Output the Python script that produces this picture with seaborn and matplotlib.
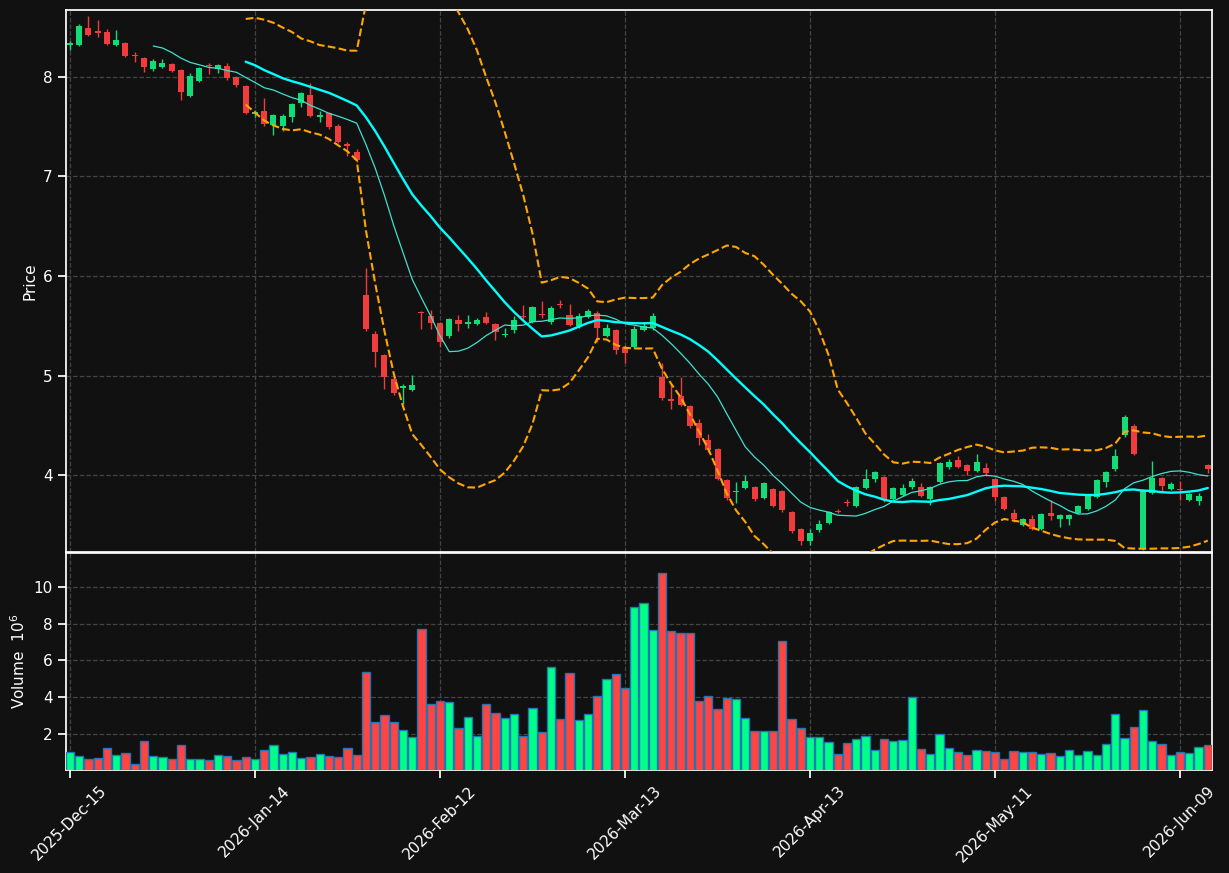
import numpy as np
import pandas as pd
import matplotlib
matplotlib.use('Agg')
import matplotlib.pyplot as plt
import seaborn as sns

# OHLC (price), volume in millions
opens = [8.32, 8.32, 8.49, 8.46, 8.45, 8.32, 8.34, 8.22, 8.19, 8.08,
         8.10, 8.13, 8.07, 7.81, 7.96, 8.12, 8.08, 8.11, 8.00, 7.91,
         7.63, 7.66, 7.52, 7.51, 7.60, 7.74, 7.82, 7.60, 7.64, 7.51,
         7.32, 7.25, 5.81, 5.42, 5.21, 4.97, 4.88, 4.86, 5.64, 5.60,
         5.53, 5.40, 5.56, 5.52, 5.52, 5.59, 5.52, 5.41, 5.46, 5.60,
         5.54, 5.62, 5.54, 5.72, 5.61, 5.50, 5.59, 5.63, 5.40, 5.46,
         5.29, 5.29, 5.46, 5.48, 4.99, 4.76, 4.80, 4.70, 4.52, 4.35,
         4.26, 3.95, 3.83, 3.87, 3.88, 3.77, 3.86, 3.84, 3.63, 3.46,
         3.34, 3.45, 3.52, 3.64, 3.73, 3.69, 3.87, 3.96, 3.98, 3.76,
         3.80, 3.88, 3.88, 3.76, 3.93, 4.08, 4.15, 4.10, 4.04, 4.07,
         3.96, 3.78, 3.62, 3.50, 3.56, 3.46, 3.62, 3.56, 3.56, 3.62,
         3.66, 3.78, 3.93, 4.06, 4.40, 4.49, 3.26, 3.82, 3.97, 3.86,
         3.86, 3.75, 3.74, 4.10]
closes = [8.34, 8.51, 8.42, 8.44, 8.33, 8.37, 8.21, 8.21, 8.10, 8.16,
          8.14, 8.06, 7.85, 8.01, 8.09, 8.11, 8.12, 7.99, 7.92, 7.64,
          7.64, 7.53, 7.62, 7.61, 7.73, 7.84, 7.61, 7.61, 7.50, 7.35,
          7.31, 7.16, 5.47, 5.24, 4.99, 4.83, 4.90, 4.91, 5.63, 5.53,
          5.34, 5.57, 5.52, 5.54, 5.56, 5.53, 5.44, 5.42, 5.56, 5.59,
          5.69, 5.61, 5.68, 5.71, 5.51, 5.60, 5.65, 5.48, 5.48, 5.26,
          5.23, 5.47, 5.50, 5.60, 4.78, 4.75, 4.71, 4.49, 4.37, 4.25,
          3.96, 3.77, 3.84, 3.94, 3.76, 3.92, 3.69, 3.65, 3.44, 3.34,
          3.42, 3.51, 3.63, 3.63, 3.72, 3.88, 3.96, 4.03, 3.75, 3.87,
          3.87, 3.94, 3.79, 3.88, 4.12, 4.13, 4.08, 4.04, 4.13, 4.02,
          3.78, 3.66, 3.56, 3.56, 3.46, 3.61, 3.59, 3.60, 3.60, 3.69,
          3.80, 3.95, 4.03, 4.19, 4.59, 4.21, 3.85, 3.97, 3.89, 3.91,
          3.85, 3.81, 3.79, 4.06]
highs = [8.36, 8.53, 8.61, 8.57, 8.48, 8.47, 8.35, 8.25, 8.20, 8.18,
         8.18, 8.14, 8.08, 8.04, 8.10, 8.14, 8.13, 8.14, 8.01, 7.92,
         7.67, 7.79, 7.63, 7.63, 7.74, 7.85, 7.94, 7.66, 7.65, 7.53,
         7.35, 7.28, 6.08, 5.45, 5.22, 5.00, 4.92, 5.01, 5.65, 5.66,
         5.54, 5.58, 5.61, 5.61, 5.58, 5.64, 5.53, 5.48, 5.60, 5.71,
         5.70, 5.75, 5.70, 5.76, 5.72, 5.63, 5.67, 5.65, 5.52, 5.47,
         5.31, 5.50, 5.54, 5.63, 5.13, 4.93, 4.99, 4.71, 4.56, 4.41,
         4.27, 3.96, 3.93, 4.00, 3.89, 3.93, 3.87, 3.85, 3.64, 3.47,
         3.46, 3.55, 3.64, 3.66, 3.76, 3.89, 4.06, 4.04, 3.99, 3.88,
         3.91, 3.97, 3.92, 3.89, 4.13, 4.16, 4.19, 4.11, 4.21, 4.12,
         3.97, 3.79, 3.66, 3.57, 3.60, 3.62, 3.75, 3.61, 3.61, 3.70,
         3.81, 3.96, 4.04, 4.26, 4.61, 4.51, 3.86, 4.14, 3.98, 3.93,
         3.94, 3.82, 3.82, 4.11]
lows = [8.27, 8.31, 8.41, 8.40, 8.32, 8.31, 8.20, 8.15, 8.05, 8.06,
        8.09, 8.05, 7.77, 7.80, 7.95, 8.03, 8.04, 7.97, 7.90, 7.63,
        7.60, 7.51, 7.42, 7.46, 7.55, 7.70, 7.60, 7.55, 7.48, 7.34,
        7.20, 7.14, 5.45, 5.09, 4.87, 4.81, 4.72, 4.85, 5.47, 5.47,
        5.29, 5.38, 5.45, 5.48, 5.51, 5.52, 5.36, 5.39, 5.43, 5.57,
        5.53, 5.58, 5.52, 5.68, 5.50, 5.48, 5.58, 5.34, 5.39, 5.22,
        5.13, 5.28, 5.45, 5.46, 4.76, 4.67, 4.70, 4.47, 4.30, 4.23,
        3.95, 3.75, 3.72, 3.86, 3.74, 3.76, 3.68, 3.63, 3.42, 3.30,
        3.30, 3.43, 3.51, 3.62, 3.69, 3.68, 3.86, 3.93, 3.73, 3.75,
        3.79, 3.86, 3.78, 3.70, 3.92, 4.06, 4.07, 4.00, 4.03, 3.99,
        3.74, 3.65, 3.53, 3.49, 3.45, 3.45, 3.55, 3.48, 3.50, 3.61,
        3.65, 3.77, 3.88, 4.04, 4.38, 4.20, 3.25, 3.81, 3.84, 3.85,
        3.75, 3.74, 3.70, 4.02]
volumes = [1.03, 0.81, 0.65, 0.70, 1.24, 0.86, 0.97, 0.38, 1.62, 0.81,
           0.76, 0.65, 1.41, 0.65, 0.65, 0.59, 0.86, 0.81, 0.59, 0.76,
           0.65, 1.14, 1.41, 0.92, 1.03, 0.70, 0.76, 0.92, 0.81, 0.76,
           1.24, 0.86, 5.35, 2.65, 3.03, 2.65, 2.22, 1.82, 7.73, 3.62,
           3.78, 3.73, 2.32, 2.92, 1.89, 3.62, 3.14, 2.86, 3.08, 1.89,
           3.41, 2.11, 5.62, 2.81, 5.30, 2.76, 3.08, 4.05, 4.97, 5.24,
           4.49, 8.92, 9.14, 7.68, 10.76, 7.62, 7.51, 7.51, 3.78, 4.05,
           3.35, 3.95, 3.89, 2.86, 2.16, 2.16, 2.16, 7.08, 2.81, 2.32,
           1.84, 1.84, 1.57, 0.92, 1.51, 1.73, 1.89, 1.14, 1.73, 1.62,
           1.68, 4.00, 1.19, 0.92, 2.00, 1.24, 1.03, 0.86, 1.14, 1.08,
           1.03, 0.65, 1.08, 1.03, 1.03, 0.92, 0.97, 0.81, 1.14, 0.86,
           1.08, 0.86, 1.46, 3.08, 1.78, 2.38, 3.30, 1.62, 1.46, 0.86,
           1.03, 0.97, 1.30, 1.41]

holidays = ['2025-12-25', '2026-01-01', '2026-01-19', '2026-02-16', '2026-04-03', '2026-05-25']
dates = pd.bdate_range('2025-12-15', periods=len(closes), freq='C', holidays=holidays)

df = pd.DataFrame({'Open': opens, 'High': highs, 'Low': lows, 'Close': closes,
                   'Volume': volumes}, index=dates)
df['x'] = np.arange(len(df))
df['ma10'] = df['Close'].rolling(10).mean()
df['ma20'] = df['Close'].rolling(20).mean()
std20 = df['Close'].rolling(20).std()
df['upper'] = df['ma20'] + 2 * std20
df['lower'] = df['ma20'] - 2 * std20

bg = '#111111'
up_c, down_c = '#12db78', '#f03c3c'
vup_c, vdown_c = '#00ff88', '#ff4444'

sns.set_theme(style='dark', rc={
    'figure.facecolor': bg, 'axes.facecolor': bg, 'axes.edgecolor': 'white',
    'axes.labelcolor': 'white', 'xtick.color': 'white', 'ytick.color': 'white',
    'text.color': 'white', 'axes.grid': True, 'grid.color': '#444444',
    'grid.linestyle': '--', 'grid.linewidth': 0.9,
    'xtick.bottom': True, 'ytick.left': True,
})
plt.rcParams['font.family'] = ['DejaVu Sans']

fig = plt.figure(figsize=(12.29, 8.73), dpi=100)
ax = fig.add_axes([0.0537, 0.3677, 0.9325, 0.6208])
axv = fig.add_axes([0.0537, 0.118, 0.9325, 0.2486], sharex=ax)

up = df['Close'] >= df['Open']
colors = np.where(up, up_c, down_c)
ax.vlines(df['x'], df['Low'], df['High'], colors=colors, linewidth=1, zorder=2)
body = (df['Close'] - df['Open']).abs().clip(lower=0.012)
ax.bar(df['x'], body, bottom=df[['Open', 'Close']].min(axis=1), width=0.65,
       color=colors, linewidth=0, zorder=3)

sns.lineplot(data=df, x='x', y='ma10', ax=ax, color='#40e0d0', linewidth=0.9, zorder=4)
sns.lineplot(data=df, x='x', y='ma20', ax=ax, color='#00ffff', linewidth=1.7, zorder=4)
sns.lineplot(data=df, x='x', y='upper', ax=ax, color='#ffa500', linewidth=1.5,
             linestyle='--', zorder=4)
sns.lineplot(data=df, x='x', y='lower', ax=ax, color='#ffa500', linewidth=1.5,
             linestyle='--', zorder=4)

ax.set_ylim(3.23, 8.67)
ax.set_xlim(-0.43, len(df) - 0.54)
ax.set_yticks([4, 5, 6, 7, 8])
ax.set_ylabel('Price', fontsize=11)
ax.set_xlabel('')
ax.tick_params(labelbottom=False, labelsize=11)

vcolors = np.where(up, vup_c, vdown_c)
axv.bar(df['x'], df['Volume'], width=0.9, color=vcolors, edgecolor='#1f77b4',
        linewidth=1, zorder=3)
axv.set_ylim(0.05, 11.84)
axv.set_yticks([2, 4, 6, 8, 10])
axv.set_ylabel('Volume  $10^{6}$', fontsize=11)
ticks = np.arange(0, len(df), 20)
axv.set_xticks(ticks)
axv.set_xticklabels([d.strftime('%Y-%b-%d') for d in df.index[ticks]],
                    rotation=45, fontsize=11)
axv.tick_params(labelsize=11)
for a in (ax, axv):
    a.grid(True, color='#444444', linestyle='--', linewidth=0.9)
    a.set_axisbelow(True)
    for s in a.spines.values():
        s.set_color('white')

fig.savefig('out.png', dpi=100, facecolor=bg)
